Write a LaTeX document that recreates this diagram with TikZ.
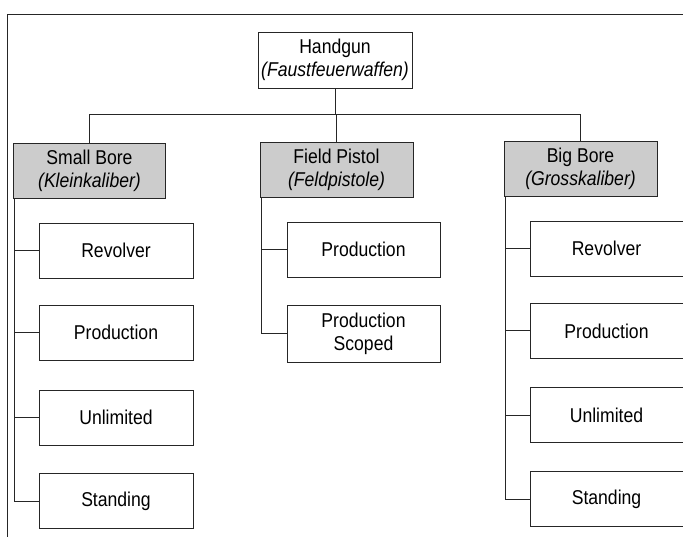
\documentclass[tikz,border=0pt]{standalone}
\usepackage{fontspec}
\setmainfont[FakeStretch=0.88]{Liberation Sans}
\begin{document}
\begin{tikzpicture}[x=1pt,y=-1pt,
  box/.style={draw=black!85,line width=0.9pt,rectangle,inner sep=0pt,
    minimum width=153pt,minimum height=55pt,align=center,
    font=\fontsize{20}{23}\selectfont},
  cat/.style={box,fill=black!20},
  link/.style={draw=black!85,line width=1pt}]
\useasboundingbox (0,0) rectangle (683,537);
\fill[white] (0,0) rectangle (683,537);
% page frame
\draw[link] (683,15) -- (7,15) -- (7,537);
% top
\node[box,minimum width=154pt,minimum height=56pt] (hg) at (335,60) {Handgun\\\textit{(Faustfeuerwaffen)}};
\node[cat,minimum width=152pt] (sb) at (89.5,170.5) {Small Bore\\\textit{(Kleinkaliber)}};
\node[cat] (fp) at (336.5,169.5) {Field Pistol\\\textit{(Feldpistole)}};
\node[cat] (bb) at (580.5,168.5) {Big Bore\\\textit{(Grosskaliber)}};
\coordinate (bar) at (0,115);
\draw[link] (hg.south) -- (hg.south |- bar);
\draw[link] (sb.north) -- (sb.north |- bar) -| (bb.north);
\draw[link] (fp.north) -- (fp.north |- bar);
% trunk tops
\coordinate (t1) at ([xshift=1.5pt]sb.south west);
\coordinate (t2) at ([xshift=1.5pt]fp.south west);
\coordinate (t3) at ([xshift=1.5pt]bb.south west);
% left column
\node[box,minimum width=154pt] (rev1) at (116,250.5) {Revolver};
\node[box,minimum width=154pt] (prod1) at (116,332.5) {Production};
\node[box,minimum width=154pt] (unl1) at (116,417.5) {Unlimited};
\node[box,minimum width=154pt] (std1) at (116,501) {Standing};
\draw[link] (t1) |- (std1.west);
\foreach \n in {rev1,prod1,unl1}{
  \draw[link] (\n.west) -- (\n.west -| t1);
}
% middle column
\node[box] (prod2) at (363.5,249.5) {Production};
\node[box,minimum height=57pt] (scp) at (363.5,333.5) {Production\\Scoped};
\draw[link] (t2) |- (scp.west);
\draw[link] (prod2.west) -- (prod2.west -| t2);
% right column
\node[box] (rev3) at (606.5,248.5) {Revolver};
\node[box] (prod3) at (606.5,331) {Production};
\node[box] (unl3) at (606.5,415) {Unlimited};
\node[box] (std3) at (606.5,499) {Standing};
\draw[link] (t3) |- (std3.west);
\foreach \n in {rev3,prod3,unl3}{
  \draw[link] (\n.west) -- (\n.west -| t3);
}
\end{tikzpicture}
\end{document}
